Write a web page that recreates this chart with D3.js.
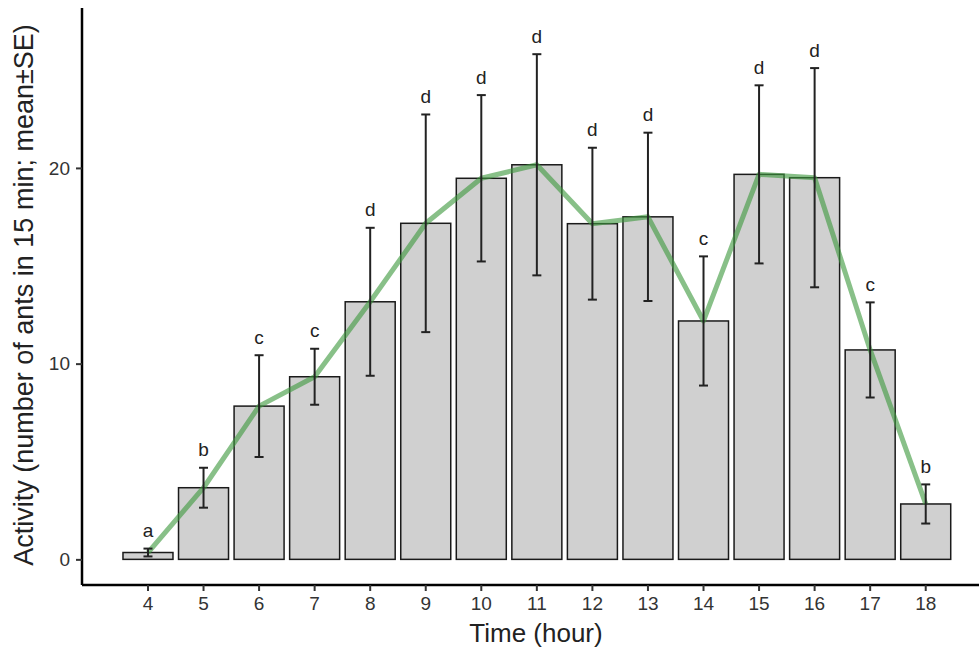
<!DOCTYPE html>
<html>
<head>
<meta charset="utf-8">
<script src="https://cdn.jsdelivr.net/npm/d3@7"></script>
<style>
  body { margin: 0; background: #fff; }
  text { font-family: "Liberation Sans", Arial, sans-serif; }
</style>
</head>
<body>
<div id="chart"></div>
<script>
let width = 979,
    height = 650,
    margin = ({ top: 8, right: 0, bottom: 65, left: 82 });

const hours = [4, 5, 6, 7, 8, 9, 10, 11, 12, 13, 14, 15, 16, 17, 18];
const means = [0.35, 3.66, 7.83, 9.33, 13.16, 17.17, 19.47, 20.16, 17.15, 17.5, 12.18, 19.67, 19.5, 10.7, 2.83];
const ses = [0.2, 1.02, 2.6, 1.43, 3.78, 5.56, 4.25, 5.65, 3.88, 4.3, 3.3, 4.55, 5.6, 2.43, 1.0];
const letters = ["a", "b", "c", "c", "d", "d", "d", "d", "d", "d", "c", "d", "d", "c", "b"];
const yTicks = [0, 10, 20];

const data = hours.map((h, i) => ({ hour: h, mean: means[i], se: ses[i], letter: letters[i] }));

const svg = d3.select("#chart")
  .append("svg")
  .attr("width", width)
  .attr("height", height);

const x = d3.scaleBand()
  .domain(hours)
  .range([120.2, 953.5])
  .paddingInner(0.1)
  .paddingOuter(0.05);

const y = d3.scaleLinear()
  .domain([-1.31, 28.17])
  .range([height - margin.bottom, margin.top]);

// bars
svg.append("g")
  .selectAll("rect")
  .data(data)
  .join("rect")
  .attr("x", d => x(d.hour))
  .attr("width", x.bandwidth())
  .attr("y", d => y(d.mean))
  .attr("height", d => y(0) - y(d.mean))
  .attr("fill", "#d0d0d0")
  .attr("stroke", "#1a1a1a")
  .attr("stroke-width", 1.5);

// mean line
const line = d3.line()
  .x(d => x(d.hour) + x.bandwidth() / 2)
  .y(d => y(d.mean));

svg.append("path")
  .datum(data)
  .attr("d", line)
  .attr("fill", "none")
  .attr("stroke", "#3f9a3f")
  .attr("stroke-opacity", 0.62)
  .attr("stroke-width", 5)
  .attr("stroke-linejoin", "round");

// error bars
const eb = svg.append("g")
  .attr("stroke", "#222")
  .attr("stroke-width", 2)
  .selectAll("g")
  .data(data)
  .join("g")
  .attr("transform", d => `translate(${x(d.hour) + x.bandwidth() / 2},0)`);

eb.append("line")
  .attr("y1", d => y(d.mean - d.se))
  .attr("y2", d => y(d.mean + d.se));
eb.append("line")
  .attr("x1", -4.5).attr("x2", 4.5)
  .attr("y1", d => y(d.mean + d.se))
  .attr("y2", d => y(d.mean + d.se));
eb.append("line")
  .attr("x1", -4.5).attr("x2", 4.5)
  .attr("y1", d => y(d.mean - d.se))
  .attr("y2", d => y(d.mean - d.se));

// letters
svg.append("g")
  .selectAll("text")
  .data(data)
  .join("text")
  .attr("x", d => x(d.hour) + x.bandwidth() / 2)
  .attr("y", d => y(d.mean + d.se) - 11.5)
  .attr("text-anchor", "middle")
  .attr("font-size", 19)
  .attr("fill", "#222")
  .text(d => d.letter);

// x axis
const xAxis = svg.append("g")
  .attr("transform", `translate(0,${height - margin.bottom})`)
  .call(d3.axisBottom(x).tickSize(6).tickSizeOuter(0).tickPadding(6));
xAxis.select(".domain").attr("d", `M${margin.left},0H${width}`).attr("stroke", "#000").attr("stroke-width", 2.5);
xAxis.selectAll(".tick line").attr("stroke", "#333").attr("stroke-width", 2);
xAxis.selectAll(".tick text").attr("font-size", 19).attr("fill", "#333").attr("font-family", "Liberation Sans, Arial, sans-serif");

// y axis
const yAxis = svg.append("g")
  .attr("transform", `translate(${margin.left},0)`)
  .call(d3.axisLeft(y).tickValues(yTicks).tickSize(6).tickSizeOuter(0).tickPadding(6));
yAxis.select(".domain").attr("d", `M0,${margin.top}V${height - margin.bottom}`).attr("stroke", "#000").attr("stroke-width", 2.5);
yAxis.selectAll(".tick line").attr("stroke", "#333").attr("stroke-width", 2);
yAxis.selectAll(".tick text").attr("font-size", 19).attr("fill", "#333").attr("font-family", "Liberation Sans, Arial, sans-serif");

// axis titles
svg.append("text")
  .attr("x", 536)
  .attr("y", 642)
  .attr("text-anchor", "middle")
  .attr("font-size", 26)
  .attr("fill", "#222")
  .text("Time (hour)");

svg.append("text")
  .attr("transform", "translate(33,295) rotate(-90)")
  .attr("text-anchor", "middle")
  .attr("font-size", 27)
  .attr("fill", "#222")
  .text("Activity (number of ants in 15 min; mean±SE)");
</script>
</body>
</html>
